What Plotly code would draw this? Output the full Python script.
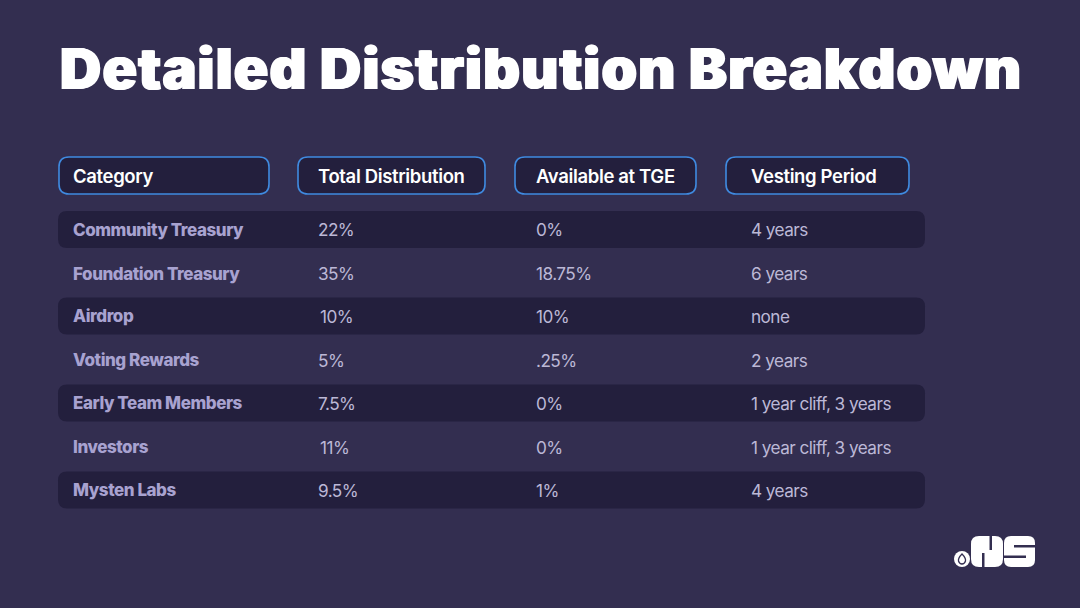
import plotly.graph_objects as go

# table contents
title_text = 'Detailed Distribution Breakdown'
headers = ['Category', 'Total Distribution', 'Available at TGE', 'Vesting Period']
categories = ['Community Treasury', 'Foundation Treasury', 'Airdrop', 'Voting Rewards',
              'Early Team Members', 'Investors', 'Mysten Labs']
total_distribution = ['22%', '35%', '10%', '5%', '7.5%', '11%', '9.5%']
available_at_tge = ['0%', '18.75%', '10%', '.25%', '0%', '0%', '1%']
vesting_period = ['4 years', '6 years', 'none', '2 years', '1 year cliff, 3 years',
                  '1 year cliff, 3 years', '4 years']

BG = '#332e50'
DARK = '#231f3d'
BLUE = '#3f8ae0'
FONT = 'Inter'


def rounded_rect(x0, y0, x1, y1, r):
    return (f'M{x0+r},{y0} L{x1-r},{y0} Q{x1},{y0} {x1},{y0+r} L{x1},{y1-r} Q{x1},{y1} {x1-r},{y1} '
            f'L{x0+r},{y1} Q{x0},{y1} {x0},{y1-r} L{x0},{y0+r} Q{x0},{y0} {x0+r},{y0} Z')


fig = go.Figure()
shapes = []
annotations = []


def add_text(x, y, text, size, color, weight=400, shadow=None):
    font = dict(family=FONT, size=size, color=color, weight=weight)
    if shadow:
        font['shadow'] = shadow
    # annotations keep a small inner padding, so pull them back a little
    annotations.append(dict(x=x - 2, y=y, text=text, showarrow=False, xanchor='left', yanchor='middle',
                            align='left', xref='x', yref='y', font=font))


# title, Inter's black is lighter than the slide's display face so fatten it a bit
add_text(60, 68, title_text, 57, '#ffffff', 900, '1px 0 0 #ffffff, -1px 0 0 #ffffff')

# header pills
header_boxes = [(59, 269), (298, 485), (515, 696), (726, 909)]
header_x = [72.5, 317.5, 535.5, 750.5]
for (x0, x1), tx, label in zip(header_boxes, header_x, headers):
    shapes.append(dict(type='path', path=rounded_rect(x0, 157, x1, 194, 10), fillcolor=DARK,
                       line=dict(color=BLUE, width=1.6)))
    add_text(tx, 176, label, 18.5, '#ffffff', 600)

# alternating row bands
row_y = [229.5, 273.5, 316, 360, 403, 447, 490]
for y in row_y[::2]:
    shapes.append(dict(type='path', path=rounded_rect(58, y - 18.5, 925, y + 18.5, 9),
                       fillcolor=DARK, line=dict(width=0)))

# cell texts, the source slide nudges a few of them by hand
total_x = [317.5, 317.5, 320, 317.5, 317.5, 320, 317.5]
for i, y in enumerate(row_y):
    add_text(72.5, y, categories[i], 17, '#a8a2d0', 800)
    add_text(total_x[i], y, total_distribution[i], 17.2, '#bcb8d6')
    add_text(535.5, y, available_at_tge[i], 17.2, '#bcb8d6')
    add_text(750.5, y, vesting_period[i], 17.2, '#bcb8d6')

# logo, dot with drop plus heavy rounded NS
shapes.append(dict(type='circle', x0=954, y0=551, x1=970, y1=567, fillcolor='#ffffff', line=dict(width=0)))
shapes.append(dict(type='path', path='M962,554 Q966,558 965.5,561 Q964.5,564 962,564 Q959.5,564 958.5,561 Q958,558 962,554 Z',
                   fillcolor='rgba(0,0,0,0)', line=dict(color=BG, width=1.3)))
shapes.append(dict(type='path', path=rounded_rect(971, 536, 1003, 567, 8), fillcolor='#ffffff', line=dict(width=0)))
shapes.append(dict(type='path', path=rounded_rect(1004, 536, 1035, 567, 7), fillcolor='#ffffff', line=dict(width=0)))
# slits that cut the two blocks into letters
for path in ['M982,553 L984.5,553 L984.5,567.5 L982,567.5 Z', 'M989.5,535.5 L992,535.5 L992,550 L989.5,550 Z',
             'M1014,545 L1035.5,545 L1035.5,547.5 L1014,547.5 Z', 'M1003.5,555.5 L1026,555.5 L1026,558 L1003.5,558 Z']:
    shapes.append(dict(type='path', path=path, fillcolor=BG, line=dict(width=0)))

fig.update_layout(
    width=1080, height=608,
    margin=dict(l=0, r=0, t=0, b=0),
    paper_bgcolor=BG,
    plot_bgcolor=BG,
    showlegend=False,
    xaxis=dict(range=[0, 1080], visible=False, fixedrange=True),
    yaxis=dict(range=[608, 0], visible=False, fixedrange=True),
    shapes=shapes,
    annotations=annotations,
)

# page margin would otherwise push the figure 8px in, and the slide's tracking differs from Inter's
post_js = """
document.body.style.margin='0';document.body.style.background='#332e50';document.body.style.overflow='hidden';
var tracking={'57px':'1.2px','18.5px':'-0.35px','17px':'-0.45px','17.2px':'-0.55px'};
function track(){document.querySelectorAll('text.annotation-text').forEach(function(t){
  var s=tracking[t.style.fontSize]; if(s){t.style.letterSpacing=s;}
});}
track();setTimeout(track,0);
"""
fig.write_html('out.html', config={'displayModeBar': False}, post_script=post_js)
